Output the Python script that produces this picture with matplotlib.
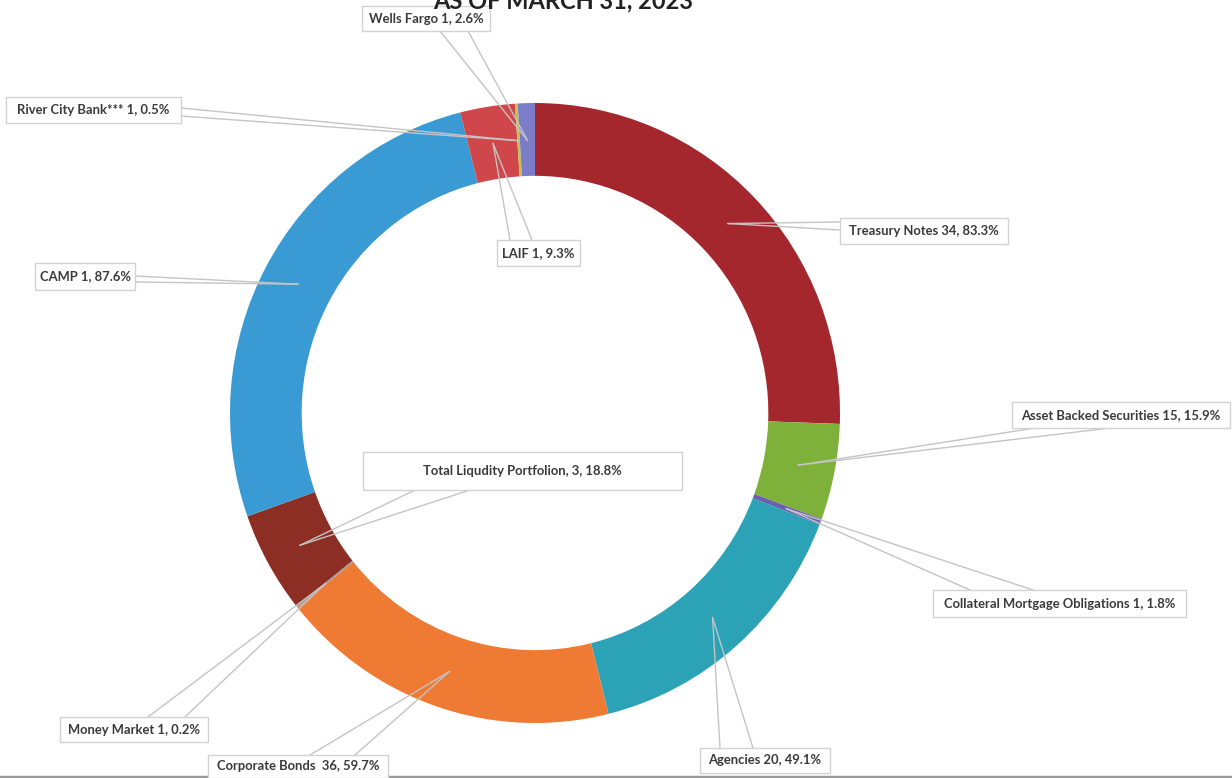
import numpy as np
import matplotlib
matplotlib.use("Agg")
import matplotlib.pyplot as plt
from matplotlib.patches import Rectangle

plt.rcParams['font.family'] = ['Lato', 'DejaVu Sans']

# slices, clockwise from 12 o'clock
names = ["Treasury Notes", "Asset Backed Securities", "Collateral Mortgage Obligations",
         "Agencies", "Corporate Bonds", "Money Market", "Total Liqudity Portfolion",
         "CAMP", "LAIF", "River City Bank***", "Wells Fargo"]
shares = [25.6, 5.0, 0.3, 15.3, 18.1, 0.1, 5.3, 26.5, 2.9, 0.15, 0.9]
counts = [34, 15, 1, 20, 36, 1, 3, 1, 1, 1, 1]
pcts = [83.3, 15.9, 1.8, 49.1, 59.7, 0.2, 18.8, 87.6, 9.3, 0.5, 2.6]
seps = [" ", " ", " ", " ", "  ", " ", ", ", " ", " ", " ", " "]
colors = ['#A3272D', '#7DB13A', '#6A5FB0', '#2BA2B6', '#EE7A33', '#9A9A9A',
          '#8C2E24', '#3A9AD3', '#CF474B', '#C9C24A', '#7B7DC9']

# label boxes in pixels (x0, y0, x1, y1), y from top
boxes = [(840, 218, 1008, 244), (1012, 402, 1230, 428), (933, 590, 1186, 617),
         (700, 748, 830, 773), (208, 755, 388, 778), (60, 717, 208, 742),
         (363, 452, 682, 490), (35, 263, 135, 290), (497, 240, 580, 266),
         (6, 97, 181, 123), (362, 6, 490, 31)]
# where the two leader lines leave each box
bases = [((840, 222), (840, 230)), ((1035, 428), (1110, 428)), ((970, 590), (1033, 590)),
         ((720, 748), (753, 748)), ((310, 755), (355, 755)), ((148, 717), (185, 717)),
         ((415, 490), (470, 490)), ((135, 276), (135, 282)), ((510, 240), (532, 240)),
         ((181, 108), (181, 116)), ((440, 31), (468, 31))]

W, H = 1232, 778
fig = plt.figure(figsize=(W / 100, H / 100), dpi=100)

# ring bbox in pixels: x 230-840, y 103-723
axp = fig.add_axes([230 / W, (H - 723) / H, 610 / W, 620 / H])
wedges, _ = axp.pie(shares, colors=colors, startangle=90, counterclock=False,
                    wedgeprops=dict(width=0.235, linewidth=0))
axp.set_xlim(-1, 1)
axp.set_ylim(-1, 1)
axp.set_aspect('auto')
axp.axis('off')

ax = fig.add_axes([0, 0, 1, 1])
ax.set_xlim(0, W)
ax.set_ylim(H, 0)
ax.axis('off')

for i, w in enumerate(wedges):
    mid = np.deg2rad((w.theta1 + w.theta2) / 2)
    tip = axp.transData.transform((0.88 * np.cos(mid), 0.88 * np.sin(mid)))
    tx, ty = tip[0], H - tip[1]
    for bx, by in bases[i]:
        ax.plot([bx, tx], [by, ty], color='#C4C4C4', lw=1, zorder=2)

    x0, y0, x1, y1 = boxes[i]
    ax.add_patch(Rectangle((x0, y0), x1 - x0, y1 - y0, facecolor='white',
                           edgecolor='#D2D2D2', lw=1, zorder=3))
    txt = f"{names[i]}{seps[i]}{counts[i]}, {pcts[i]}%"
    ax.text((x0 + x1) / 2, (y0 + y1) / 2, txt, ha='center', va='center',
            fontsize=9.4, fontweight='bold', color='#3A3A3A', zorder=4)

# title cut off at the top of the scan
fig.text(563 / W, 1 - 8 / H, "AS OF MARCH 31, 2023", ha='center', va='baseline',
         fontsize=17, fontweight='bold', color='#222222')

ax.plot([0, W], [776.5, 776.5], color='#9A9A9A', lw=2.5, zorder=1)

fig.savefig("out.png", dpi=100)
